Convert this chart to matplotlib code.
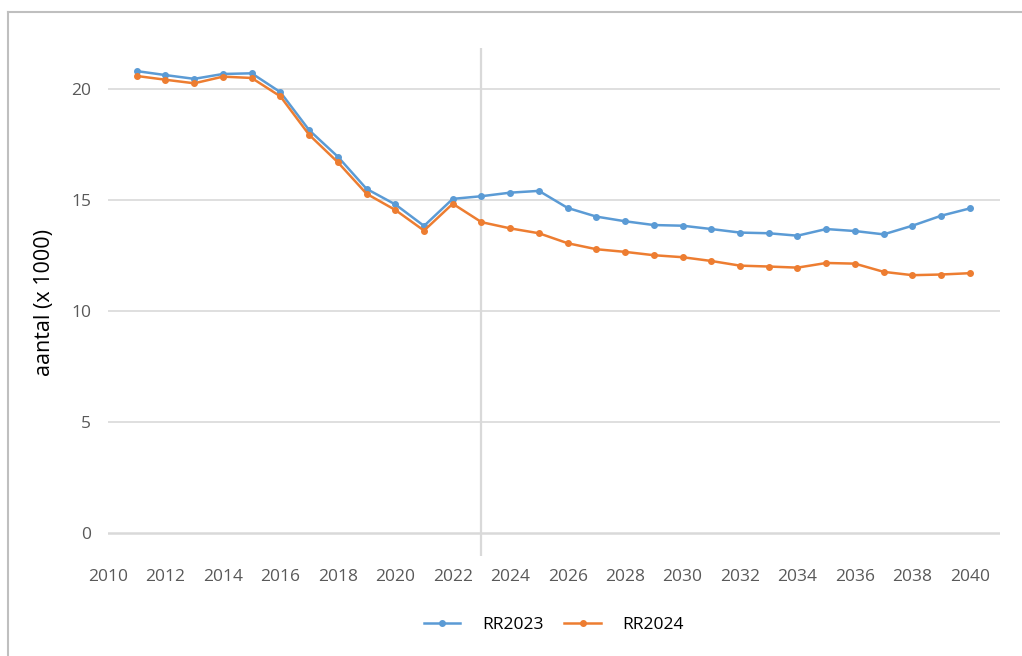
import matplotlib
matplotlib.use("Agg")
import matplotlib.pyplot as plt
from matplotlib.lines import Line2D

plt.rcParams["font.family"] = ["Open Sans", "DejaVu Sans"]

# -------------------------------------------------------
# Data
# -------------------------------------------------------
years = list(range(2011, 2041))

rr2023 = [20.81, 20.63, 20.46, 20.68, 20.71, 19.86, 18.15, 16.95, 15.50, 14.80,
          13.83, 15.05, 15.17, 15.33, 15.41, 14.64, 14.25, 14.04, 13.87, 13.84,
          13.69, 13.53, 13.50, 13.39, 13.69, 13.60, 13.45, 13.84, 14.29, 14.62]

rr2024 = [20.59, 20.42, 20.26, 20.56, 20.50, 19.67, 17.94, 16.70, 15.28, 14.55,
          13.62, 14.83, 14.00, 13.72, 13.50, 13.05, 12.78, 12.66, 12.51, 12.42,
          12.25, 12.04, 12.00, 11.95, 12.16, 12.13, 11.76, 11.61, 11.64, 11.70]

x_ticks = list(range(2010, 2041, 2))
y_ticks = [0, 5, 10, 15, 20]
split_year = 2023

BLUE = "#5B9BD5"
ORANGE = "#ED7D31"
GRID = "#D9D9D9"
TICK = "#595959"

# -------------------------------------------------------
# Figure
# -------------------------------------------------------
fig = plt.figure(figsize=(10.22, 6.56), dpi=100)
ax = fig.add_axes([0.1057, 0.1524, 0.8728, 0.7744])

# outer chart border (left and top)
fig.add_artist(Line2D([8 / 1022, 8 / 1022], [0, 1 - 12 / 656],
                      transform=fig.transFigure, color="#BFBFBF", lw=1.5))
fig.add_artist(Line2D([8 / 1022, 1], [1 - 12 / 656, 1 - 12 / 656],
                      transform=fig.transFigure, color="#BFBFBF", lw=1.5))

for y in y_ticks[1:]:
    ax.axhline(y, color=GRID, lw=1.2, zorder=0.5)
ax.axhline(0, color=GRID, lw=1.8, zorder=0.5)
ax.axvline(split_year, color=GRID, lw=1.6, zorder=0.6)

ax.plot(years, rr2023, color=BLUE, lw=1.8, marker="o", ms=4,
        label="RR2023", zorder=3)
ax.plot(years, rr2024, color=ORANGE, lw=1.8, marker="o", ms=4,
        label="RR2024", zorder=3)

ax.set_xlim(2010, 2041.05)
ax.set_ylim(-1.05, 21.85)
ax.set_xticks(x_ticks)
ax.set_yticks(y_ticks)

for s in ax.spines.values():
    s.set_visible(False)
ax.tick_params(axis="both", length=0, colors=TICK, labelsize=12.5)
ax.tick_params(axis="x", pad=9)
ax.tick_params(axis="y", pad=12)

ax.set_ylabel("aantal (x 1000)", fontsize=15.5, color="black", labelpad=12)

ax.legend(loc="center", bbox_to_anchor=(0.5, -0.136), ncol=2, frameon=False,
          fontsize=12.5, handlelength=2.1, handletextpad=1.25,
          columnspacing=1.2)

fig.savefig("out.png", dpi=100)
